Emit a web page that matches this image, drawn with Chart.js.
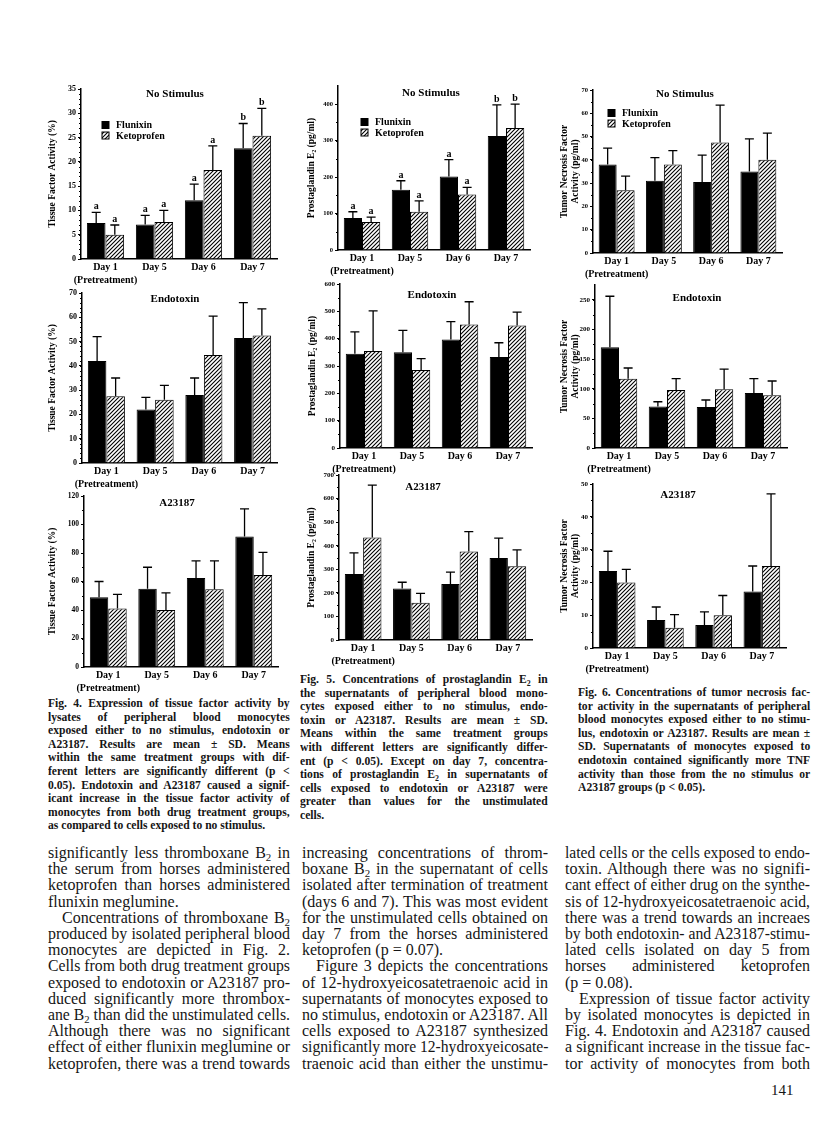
<!DOCTYPE html>
<html>
<head>
<meta charset="utf-8">
<script src="https://cdn.jsdelivr.net/npm/chart.js@4.4.0/dist/chart.umd.min.js"></script>
<style>
  body { margin: 0; background: #fff; width: 816px; height: 1125px; position: relative; overflow: hidden; }
  canvas { position: absolute; }
  .cap { position: absolute; font-family: 'Liberation Serif', serif; font-weight: bold; font-size: 13.5px; line-height: 13.6px; transform-origin: 0 0; color: #151515; }
  .txt { position: absolute; font-family: 'Liberation Serif', serif; font-size: 16px; line-height: 16.2px; transform-origin: 0 0; color: #151515; }
  .cap div, .txt div { white-space: nowrap; text-align: left; }
  .cap div.j, .txt div.j { text-align: justify; text-align-last: justify; }
  .ind { text-indent: 14px; }
  sub { font-size: 0.68em; vertical-align: -0.3em; line-height: 0; }
  .pg { position: absolute; left: 771px; top: 1082px; font-family: 'Liberation Serif', serif; font-size: 15px; color: #151515; }
</style>
</head>
<body>

<div class="cap" style="left:48px; top:696px; width:281px; transform:scaleX(0.86)">
  <div class="j">Fig. 4. Expression of tissue factor activity by</div>
  <div class="j">lysates of peripheral blood monocytes</div>
  <div class="j">exposed either to no stimulus, endotoxin or</div>
  <div class="j">A23187. Results are mean ± SD. Means</div>
  <div class="j">within the same treatment groups with dif-</div>
  <div class="j">ferent letters are significantly different (p &lt;</div>
  <div class="j">0.05). Endotoxin and A23187 caused a signif-</div>
  <div class="j">icant increase in the tissue factor activity of</div>
  <div class="j">monocytes from both drug treatment groups,</div>
  <div>as compared to cells exposed to no stimulus.</div>
</div>

<div class="cap" style="left:300px; top:672px; width:288px; transform:scaleX(0.86)">
  <div class="j">Fig. 5. Concentrations of prostaglandin E<sub>2</sub> in</div>
  <div class="j">the supernatants of peripheral blood mono-</div>
  <div class="j">cytes exposed either to no stimulus, endo-</div>
  <div class="j">toxin or A23187. Results are mean ± SD.</div>
  <div class="j">Means within the same treatment groups</div>
  <div class="j">with different letters are significantly differ-</div>
  <div class="j">ent (p &lt; 0.05). Except on day 7, concentra-</div>
  <div class="j">tions of prostaglandin E<sub>2</sub> in supernatants of</div>
  <div class="j">cells exposed to endotoxin or A23187 were</div>
  <div class="j">greater than values for the unstimulated</div>
  <div>cells.</div>
</div>

<div class="cap" style="left:578px; top:685px; width:270px; transform:scaleX(0.86)">
  <div class="j">Fig. 6. Concentrations of tumor necrosis fac-</div>
  <div class="j">tor activity in the supernatants of peripheral</div>
  <div class="j">blood monocytes exposed either to no stimu-</div>
  <div class="j">lus, endotoxin or A23187. Results are mean ±</div>
  <div class="j">SD. Supernatants of monocytes exposed to</div>
  <div class="j">endotoxin contained significantly more TNF</div>
  <div class="j">activity than those from the no stimulus or</div>
  <div>A23187 groups (p &lt; 0.05).</div>
</div>

<div class="txt" style="left:48px; top:845px; width:242px">
  <div class="j">significantly less thromboxane B<sub>2</sub> in</div>
  <div class="j">the serum from horses administered</div>
  <div class="j">ketoprofen than horses administered</div>
  <div>flunixin meglumine.</div>
  <div class="j ind">Concentrations of thromboxane B<sub>2</sub></div>
  <div class="j">produced by isolated peripheral blood</div>
  <div class="j">monocytes are depicted in Fig. 2.</div>
  <div class="j">Cells from both drug treatment groups</div>
  <div class="j">exposed to endotoxin or A23187 pro-</div>
  <div class="j">duced significantly more thrombox-</div>
  <div class="j">ane B<sub>2</sub> than did the unstimulated cells.</div>
  <div class="j">Although there was no significant</div>
  <div class="j">effect of either flunixin meglumine or</div>
  <div class="j">ketoprofen, there was a trend towards</div>
</div>

<div class="txt" style="left:302px; top:845px; width:246px">
  <div class="j">increasing concentrations of throm-</div>
  <div class="j">boxane B<sub>2</sub> in the supernatant of cells</div>
  <div class="j">isolated after termination of treatment</div>
  <div class="j">(days 6 and 7). This was most evident</div>
  <div class="j">for the unstimulated cells obtained on</div>
  <div class="j">day 7 from the horses administered</div>
  <div>ketoprofen (p = 0.07).</div>
  <div class="j ind">Figure 3 depicts the concentrations</div>
  <div class="j">of 12-hydroxyeicosatetraenoic acid in</div>
  <div class="j">supernatants of monocytes exposed to</div>
  <div class="j">no stimulus, endotoxin or A23187. All</div>
  <div class="j">cells exposed to A23187 synthesized</div>
  <div class="j">significantly more 12-hydroxyeicosate-</div>
  <div class="j">traenoic acid than either the unstimu-</div>
</div>

<div class="txt" style="left:565px; top:845px; width:245px">
  <div class="j">lated cells or the cells exposed to endo-</div>
  <div class="j">toxin. Although there was no signifi-</div>
  <div class="j">cant effect of either drug on the synthe-</div>
  <div class="j">sis of 12-hydroxyeicosatetraenoic acid,</div>
  <div class="j">there was a trend towards an increaes</div>
  <div class="j">by both endotoxin- and A23187-stimu-</div>
  <div class="j">lated cells isolated on day 5 from</div>
  <div class="j">horses administered ketoprofen</div>
  <div>(p = 0.08).</div>
  <div class="j ind">Expression of tissue factor activity</div>
  <div class="j">by isolated monocytes is depicted in</div>
  <div class="j">Fig. 4. Endotoxin and A23187 caused</div>
  <div class="j">a significant increase in the tissue fac-</div>
  <div class="j">tor activity of monocytes from both</div>
</div>

<div class="pg">141</div>

<script>
// categories
var dayLabels = [['Day 1', '(Pretreatment)'], 'Day 5', 'Day 6', 'Day 7'];
var seriesNames = ['Flunixin', 'Ketoprofen'];

// Fig. 4 - tissue factor activity (%)
var tfNoneFlu = [7.4, 7.1, 12.1, 22.8];
var tfNoneFluSd = [2.2, 1.9, 3.3, 5.1];
var tfNoneKet = [5.0, 7.6, 18.3, 25.4];
var tfNoneKetSd = [2.0, 2.4, 5.0, 5.6];
var tfNoneFluLet = ['a', 'a', 'a', 'b'];
var tfNoneKetLet = ['a', 'a', 'a', 'b'];

var tfEndoFlu = [42, 22, 28, 51.5];
var tfEndoFluSd = [10, 5, 7, 14.5];
var tfEndoKet = [27.5, 26, 44.5, 52.5];
var tfEndoKetSd = [7.5, 6, 16, 11];

var tfCaFlu = [49, 55, 62.5, 91.5];
var tfCaFluSd = [11, 15, 12, 19.5];
var tfCaKet = [41, 40, 54.5, 64.5];
var tfCaKetSd = [10, 12, 20, 16];

// Fig. 5 - prostaglandin E2 (pg/ml)
var pgNoneFlu = [88, 165, 202, 313];
var pgNoneFluSd = [17, 25, 46, 85];
var pgNoneKet = [77, 105, 152, 335];
var pgNoneKetSd = [13, 30, 20, 65];
var pgNoneFluLet = ['a', 'a', 'a', 'b'];
var pgNoneKetLet = ['a', 'a', 'a', 'b'];

var pgEndoFlu = [345, 350, 397, 333];
var pgEndoFluSd = [80, 80, 65, 52];
var pgEndoKet = [355, 285, 452, 448];
var pgEndoKetSd = [147, 42, 83, 49];

var pgCaFlu = [280, 218, 238, 348];
var pgCaFluSd = [90, 27, 50, 84];
var pgCaKet = [435, 158, 375, 313];
var pgCaKetSd = [222, 40, 85, 69];

// Fig. 6 - tumor necrosis factor activity (pg/ml)
var tnfNoneFlu = [38, 31, 30.5, 35];
var tnfNoneFluSd = [7, 10, 11.5, 14];
var tnfNoneKet = [27, 38, 47.5, 40];
var tnfNoneKetSd = [6, 6, 16, 11.5];

var tnfEndoFlu = [170, 70, 69, 93];
var tnfEndoFluSd = [86, 8, 12, 24];
var tnfEndoKet = [117, 98, 99, 89];
var tnfEndoKetSd = [18, 19, 34, 24];

var tnfCaFlu = [23.5, 8.5, 7, 17.2];
var tnfCaFluSd = [6, 4, 4, 7.8];
var tnfCaKet = [20, 6.2, 10, 25];
var tnfCaKetSd = [4, 4, 6, 22];

var tfTitle = 'Tissue Factor Activity (%)';
var pgTitle = 'Prostaglandin E\u2082 (pg/ml)';
var tnfTitle = ['Tumor Necrosis Factor', 'Activity (pg/ml)'];

var serif = "'Liberation Serif', serif";

// squeeze over-long text lines, justify the rest
document.querySelectorAll('.cap div, .txt div').forEach(function(el) {
  var box = el.parentNode.clientWidth;
  el.style.display = 'inline-block';
  var nat = el.offsetWidth;
  el.style.display = '';
  if (nat > box) {
    el.style.transformOrigin = '0 0';
    el.style.transform = 'scaleX(' + (box / nat) + ')';
    el.style.width = nat + 'px';
  }
});

function makeHatch() {
  var c = document.createElement('canvas');
  c.width = 4; c.height = 4;
  var g = c.getContext('2d');
  g.fillStyle = '#fff';
  g.fillRect(0, 0, 4, 4);
  g.strokeStyle = '#000';
  g.lineWidth = 1.1;
  g.beginPath();
  g.moveTo(0, 4); g.lineTo(4, 0);
  g.moveTo(-1, 1); g.lineTo(1, -1);
  g.moveTo(3, 5); g.lineTo(5, 3);
  g.stroke();
  return g.createPattern(c, 'repeat');
}
var hatch = makeHatch();

// error bars, letters, minor ticks, panel title and legend
var decor = {
  id: 'decor',
  afterDatasetsDraw: function(chart, args, o) {
    var ctx = chart.ctx, ys = chart.scales.y, a = chart.chartArea;
    ctx.save();
    ctx.strokeStyle = '#000';
    ctx.fillStyle = '#000';

    if (o.minor) {
      ctx.lineWidth = 1;
      ctx.beginPath();
      for (var v = o.minor; v < ys.max; v += o.minor) {
        var py = Math.round(ys.getPixelForValue(v)) + 0.5;
        ctx.moveTo(a.left - 2, py);
        ctx.lineTo(a.left, py);
      }
      ctx.stroke();
    }

    chart.data.datasets.forEach(function(ds, i) {
      chart.getDatasetMeta(i).data.forEach(function(bar, j) {
        var top = ys.getPixelForValue(ds.data[j] + ds.sd[j]);
        ctx.lineWidth = 1.3;
        ctx.beginPath();
        ctx.moveTo(bar.x, bar.y);
        ctx.lineTo(bar.x, top);
        ctx.moveTo(bar.x - 4.5, top);
        ctx.lineTo(bar.x + 4.5, top);
        ctx.stroke();
        if (ds.letters) {
          ctx.font = 'bold 10px ' + serif;
          ctx.textAlign = 'center';
          ctx.textBaseline = 'alphabetic';
          ctx.fillText(ds.letters[j], bar.x, top - 3);
        }
      });
    });

    ctx.font = 'bold 11px ' + serif;
    ctx.textAlign = 'center';
    ctx.textBaseline = 'middle';
    ctx.fillText(o.title, a.left + o.tx, a.top + o.ty);

    if (o.legend) {
      ctx.font = 'bold 10px ' + serif;
      ctx.textAlign = 'left';
      chart.data.datasets.forEach(function(ds, i) {
        var x = a.left + o.legend[0], y = a.top + o.legend[1] + i * 10.5;
        ctx.fillStyle = ds.backgroundColor;
        ctx.fillRect(x, y - 3.5, 7, 7);
        ctx.lineWidth = 1;
        ctx.strokeRect(x, y - 3.5, 7, 7);
        ctx.fillStyle = '#000';
        ctx.fillText(ds.label, x + 14, y + 0.5);
      });
    }
    ctx.restore();
  }
};

function panel(p) {
  var W = p.yw, H = 34, pt = 8, pr = 4;
  var left = p.ax - W, top = p.top - pt;
  var cw = p.right - left + pr, ch = p.zero + H - top;
  var cv = document.createElement('canvas');
  cv.width = cw; cv.height = ch;
  cv.style.left = left + 'px';
  cv.style.top = top + 'px';
  cv.style.width = cw + 'px';
  cv.style.height = ch + 'px';
  document.body.appendChild(cv);

  new Chart(cv, {
    type: 'bar',
    data: {
      labels: dayLabels,
      datasets: [
        { label: seriesNames[0], data: p.flu, sd: p.fluSd, letters: p.fluLet,
          backgroundColor: '#000', borderColor: '#000', borderWidth: 1 },
        { label: seriesNames[1], data: p.ket, sd: p.ketSd, letters: p.ketLet,
          backgroundColor: hatch, borderColor: '#000', borderWidth: 1 }
      ]
    },
    options: {
      responsive: false,
      animation: false,
      layout: { padding: { top: pt, right: pr, left: 0, bottom: 0 } },
      datasets: { bar: { categoryPercentage: 0.76, barPercentage: 1 } },
      plugins: {
        legend: { display: false },
        tooltip: { enabled: false },
        decor: { title: p.title, tx: p.tx, ty: p.ty, legend: p.legend, minor: p.minor }
      },
      scales: {
        x: {
          grid: { display: false, drawTicks: false },
          border: { color: '#000', width: 1.5 },
          ticks: { color: '#000', padding: 2, maxRotation: 0, autoSkip: false,
                   font: { family: serif, weight: 'bold', size: 10, lineHeight: 1.3 } },
          afterFit: function(s) { s.height = H; }
        },
        y: {
          min: 0,
          max: p.max,
          grid: { drawOnChartArea: false, tickLength: 3, color: '#000', lineWidth: 1 },
          border: { color: '#000', width: 1.5 },
          ticks: { stepSize: p.step, includeBounds: false, color: '#000', padding: 2,
                   font: { family: serif, weight: 'bold', size: p.tick } },
          title: { display: true, text: p.yTitle, color: '#000', padding: 0,
                   font: { family: serif, weight: 'bold', size: 9.5, lineHeight: 1.15 } },
          afterFit: function(s) { s.width = W; }
        }
      }
    },
    plugins: [decor]
  });
}

panel({ ax: 81, top: 89, zero: 259, right: 277, max: 35, step: 5, minor: 1, yw: 34, tick: 8,
  flu: tfNoneFlu, fluSd: tfNoneFluSd, ket: tfNoneKet, ketSd: tfNoneKetSd,
  fluLet: tfNoneFluLet, ketLet: tfNoneKetLet,
  yTitle: tfTitle, title: 'No Stimulus', tx: 94, ty: 5, legend: [21, 36] });

panel({ ax: 338, top: 86, zero: 250, right: 530, max: 450, step: 100, minor: 50, yw: 32, tick: 6.5,
  flu: pgNoneFlu, fluSd: pgNoneFluSd, ket: pgNoneKet, ketSd: pgNoneKetSd,
  fluLet: pgNoneFluLet, ketLet: pgNoneKetLet,
  yTitle: pgTitle, title: 'No Stimulus', tx: 93, ty: 7, legend: [23, 36] });

panel({ ax: 593, top: 90, zero: 253, right: 782, max: 70, step: 10, minor: 5, yw: 34, tick: 6.5,
  flu: tnfNoneFlu, fluSd: tnfNoneFluSd, ket: tnfNoneKet, ketSd: tnfNoneKetSd,
  yTitle: tnfTitle, title: 'No Stimulus', tx: 92, ty: 4, legend: [15, 23] });

panel({ ax: 82, top: 293, zero: 463, right: 277, max: 70, step: 10, minor: 2, yw: 35, tick: 8,
  flu: tfEndoFlu, fluSd: tfEndoFluSd, ket: tfEndoKet, ketSd: tfEndoKetSd,
  yTitle: tfTitle, title: 'Endotoxin', tx: 93, ty: 6 });

panel({ ax: 340, top: 284, zero: 448, right: 532, max: 600, step: 100, minor: 50, yw: 33, tick: 7,
  flu: pgEndoFlu, fluSd: pgEndoFluSd, ket: pgEndoKet, ketSd: pgEndoKetSd,
  yTitle: pgTitle, title: 'Endotoxin', tx: 92, ty: 11 });

panel({ ax: 595, top: 285, zero: 448, right: 787, max: 275, step: 50, minor: 25, yw: 36, tick: 7,
  flu: tnfEndoFlu, fluSd: tnfEndoFluSd, ket: tnfEndoKet, ketSd: tnfEndoKetSd,
  yTitle: tnfTitle, title: 'Endotoxin', tx: 102, ty: 13 });

panel({ ax: 84, top: 496, zero: 667, right: 278, max: 120, step: 20, minor: 10, yw: 37, tick: 7.5,
  flu: tfCaFlu, fluSd: tfCaFluSd, ket: tfCaKet, ketSd: tfCaKetSd,
  yTitle: tfTitle, title: 'A23187', tx: 93, ty: 7 });

panel({ ax: 339, top: 475, zero: 640, right: 532, max: 700, step: 100, minor: 50, yw: 33, tick: 7,
  flu: pgCaFlu, fluSd: pgCaFluSd, ket: pgCaKet, ketSd: pgCaKetSd,
  yTitle: pgTitle, title: 'A23187', tx: 84, ty: 12 });

panel({ ax: 593, top: 484, zero: 648, right: 786, max: 50, step: 10, minor: 5, yw: 34, tick: 7,
  flu: tnfCaFlu, fluSd: tnfCaFluSd, ket: tnfCaKet, ketSd: tnfCaKetSd,
  yTitle: tnfTitle, title: 'A23187', tx: 85, ty: 11 });
</script>
</body>
</html>
